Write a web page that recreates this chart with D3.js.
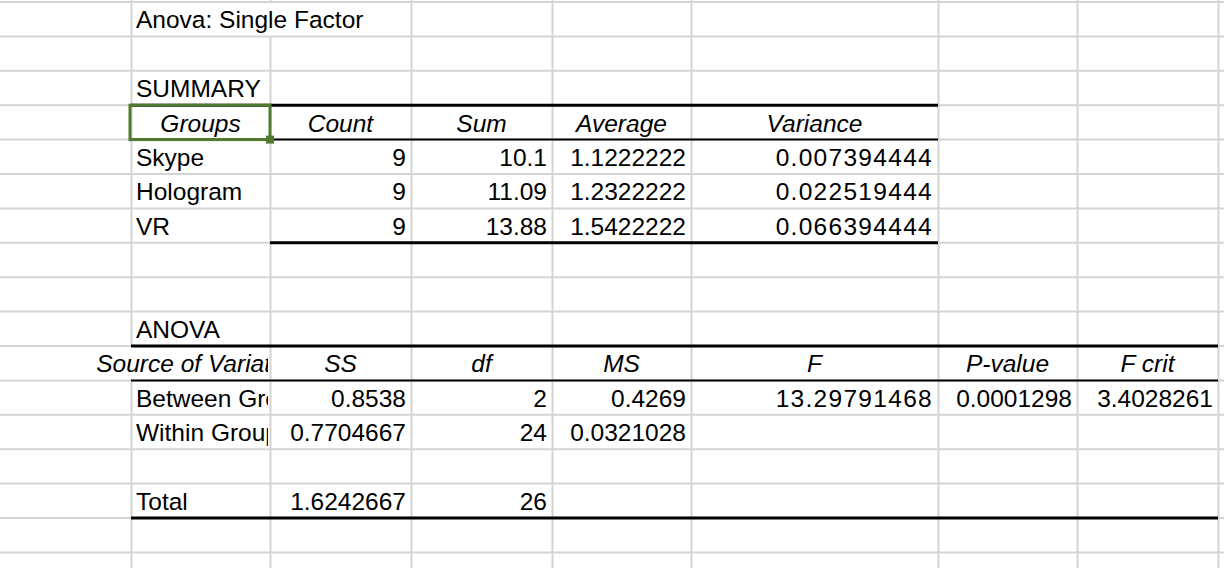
<!DOCTYPE html>
<html>
<head>
<meta charset="utf-8">
<script src="https://cdn.jsdelivr.net/npm/d3@7"></script>
<style>
  body { margin: 0; background: #fff; }
  text { font-family: 'Liberation Sans', Arial, sans-serif; font-size: 24.5px; fill: #000; }
</style>
</head>
<body>
<div id="sheet"></div>
<script>
// column borders and row borders of the sheet grid
const colEdges = [131, 270, 411, 552, 691, 938, 1077, 1218, 1224];
const rowCount = 17;

const summaryHeaders = ['Groups', 'Count', 'Sum', 'Average', 'Variance'];
const groups = ['Skype', 'Hologram', 'VR'];
const counts = ['9', '9', '9'];
const sums = ['10.1', '11.09', '13.88'];
const averages = ['1.1222222', '1.2322222', '1.5422222'];
const variances = ['0.007394444', '0.022519444', '0.066394444'];

const anovaHeaders = ['Source of Variation', 'SS', 'df', 'MS', 'F', 'P-value', 'F crit'];
const sources = ['Between Groups', 'Within Groups', '', 'Total'];
const ssVals = ['0.8538', '0.7704667', '', '1.6242667'];
const dfVals = ['2', '24', '', '26'];
const msVals = ['0.4269', '0.0321028', '', ''];
const fVals = ['13.29791468', '', '', ''];
const pVals = ['0.0001298', '', '', ''];
const fcritVals = ['3.4028261', '', '', ''];

const width = 1224, height = 568;
const y = d3.scaleLinear().domain([0, 1]).range([2, 36.4]); // row index -> y
const cx = i => i === 0 ? 0 : colEdges[i - 1];

const svg = d3.select('#sheet').append('svg')
  .attr('width', width).attr('height', height);

svg.append('defs').append('clipPath').attr('id', 'clipA')
  .append('rect').attr('x', 0).attr('y', 0).attr('width', 268).attr('height', height);

// grid
svg.append('g').selectAll('line').data(colEdges.slice(0, -1)).join('line')
  .attr('x1', d => d + 0.5).attr('x2', d => d + 0.5)
  .attr('y1', 0).attr('y2', height)
  .style('stroke', '#d4d4d4').style('stroke-width', 2);
svg.append('g').selectAll('line').data(d3.range(rowCount)).join('line')
  .attr('x1', 0).attr('x2', width)
  .attr('y1', d => y(d)).attr('y2', d => y(d))
  .style('stroke', '#d4d4d4').style('stroke-width', 2);

function cellText(col, row, txt, align, italic, clip) {
  if (!txt) return;
  let x, anchor;
  if (align === 'right') { x = cx(col + 1) - 5; anchor = 'end'; }
  else if (align === 'center') { x = (cx(col) + cx(col + 1)) / 2; anchor = 'middle'; }
  else { x = cx(col) + 5; anchor = 'start'; }
  const t = svg.append('text')
    .attr('x', x).attr('y', y(row + 1) - 8)
    .attr('text-anchor', anchor)
    .style('font-style', italic ? 'italic' : 'normal')
    .style('letter-spacing', col === 5 && !italic ? '1.3px' : null)
    .text(txt);
  if (clip) t.attr('clip-path', 'url(#clipA)');
}

function blank(x, row, w) {
  svg.append('rect').attr('x', x).attr('y', y(row) + 1)
    .attr('width', w).attr('height', y(row + 1) - y(row) - 2)
    .style('fill', '#fff');
}

blank(cx(2) - 2, 0, 4);
cellText(1, 0, 'Anova: Single Factor', 'left');
cellText(1, 2, 'SUMMARY', 'left');

summaryHeaders.forEach((h, i) => cellText(i + 1, 3, h, 'center', true));
groups.forEach((g, r) => {
  cellText(1, 4 + r, g, 'left');
  cellText(2, 4 + r, counts[r], 'right');
  cellText(3, 4 + r, sums[r], 'right');
  cellText(4, 4 + r, averages[r], 'right');
  cellText(5, 4 + r, variances[r], 'right');
});

cellText(1, 9, 'ANOVA', 'left');
blank(0, 10, 268);
svg.append('text').attr('x', 200).attr('y', y(11) - 8).attr('text-anchor', 'middle')
  .style('font-style', 'italic').attr('clip-path', 'url(#clipA)').text(anovaHeaders[0]);
anovaHeaders.slice(1).forEach((h, i) => cellText(i + 2, 10, h, 'center', true));
sources.forEach((s, r) => {
  const row = 11 + r;
  cellText(1, row, s, 'left', false, true);
  cellText(2, row, ssVals[r], 'right');
  cellText(3, row, dfVals[r], 'right');
  cellText(4, row, msVals[r], 'right');
  cellText(5, row, fVals[r], 'right');
  cellText(6, row, pVals[r], 'right');
  cellText(7, row, fcritVals[r], 'right');
});

// table borders
const borders = [
  { x1: 131, x2: 938, row: 3, w: 3 },
  { x1: 131, x2: 938, row: 4, w: 2 },
  { x1: 270, x2: 938, row: 7, w: 3 },
  { x1: 131, x2: 1218, row: 10, w: 3 },
  { x1: 131, x2: 1218, row: 11, w: 2 },
  { x1: 131, x2: 1218, row: 15, w: 3 }
];
svg.append('g').selectAll('line').data(borders).join('line')
  .attr('x1', d => d.x1).attr('x2', d => d.x2)
  .attr('y1', d => y(d.row)).attr('y2', d => y(d.row))
  .style('stroke', '#000').style('stroke-width', d => d.w);

// selected cell
svg.append('rect').attr('x', 130).attr('y', y(3)).attr('width', 140).attr('height', y(4) - y(3))
  .style('fill', 'none').style('stroke', '#4f7a30').style('stroke-width', 3);
svg.append('rect').attr('x', 266).attr('y', y(4) - 4).attr('width', 8).attr('height', 8)
  .style('fill', '#4f7a30');
</script>
</body>
</html>
